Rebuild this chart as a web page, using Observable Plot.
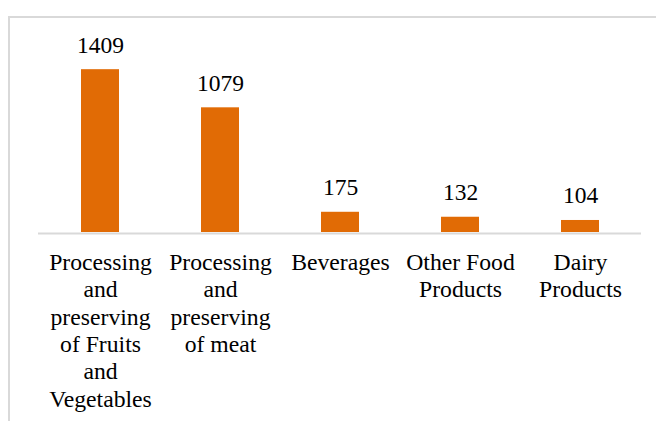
<!DOCTYPE html>
<html>
<head>
<meta charset="utf-8">
<script src="https://cdn.jsdelivr.net/npm/d3@7"></script>
<script src="https://cdn.jsdelivr.net/npm/@observablehq/plot@0.6"></script>
<style>
  html, body { margin: 0; padding: 0; background: #fff; }
  #wrap { position: relative; width: 656px; height: 421px; overflow: hidden; }
  #border { position: absolute; left: 8px; top: 16px; width: 700px; height: 500px;
            border-top: 2px solid #d9d9d9; border-left: 2px solid #d9d9d9; pointer-events: none; }
  #chart svg, #chart svg text { font-family: "Liberation Serif", "Times New Roman", serif !important; }
</style>
</head>
<body>
<div id="wrap"><div id="chart"></div><div id="border"></div></div>
<script>
const categories = [
  "Processing and preserving of Fruits and Vegetables",
  "Processing and preserving of meat",
  "Beverages",
  "Other Food Products",
  "Dairy Products"
];
const tickLabels = [
  "Processing\nand\npreserving\nof Fruits\nand\nVegetables",
  "Processing\nand\npreserving\nof meat",
  "Beverages",
  "Other Food\nProducts",
  "Dairy\nProducts"
];
const values = [1409, 1079, 175, 132, 104];

const data = categories.map((c, i) => ({category: c, value: values[i]}));
const labelMap = new Map(categories.map((c, i) => [c, tickLabels[i]]));

const font = "Liberation Serif";

const chart = Plot.plot({
  width: 656,
  height: 421,
  marginLeft: 38,
  marginRight: 15,
  marginTop: 24,
  marginBottom: 189,
  style: {fontFamily: font, fontSize: "23px", color: "#000", background: "transparent"},
  x: {domain: categories, paddingInner: 0.685, paddingOuter: 0.3425, label: null},
  y: {domain: [0, 1800], axis: null},
  marks: [
    Plot.axisX({tickSize: 0, tickPadding: 18, fontSize: 23.7, lineHeight: 1.155, fontFamily: font,
                tickFormat: d => labelMap.get(d), fill: "#000", label: null}),
    Plot.barY(data, {x: "category", y: "value", fill: "#E16B05"}),
    Plot.ruleY([0], {stroke: "#d9d9d9", strokeWidth: 2, dy: 1}),
    Plot.text(data, {x: "category", y: "value", text: d => String(d.value), fontFamily: font,
                     lineAnchor: "bottom", dy: -17, fontSize: 23.5, fill: "#000"})
  ]
});
document.getElementById("chart").appendChild(chart);
</script>
</body>
</html>
